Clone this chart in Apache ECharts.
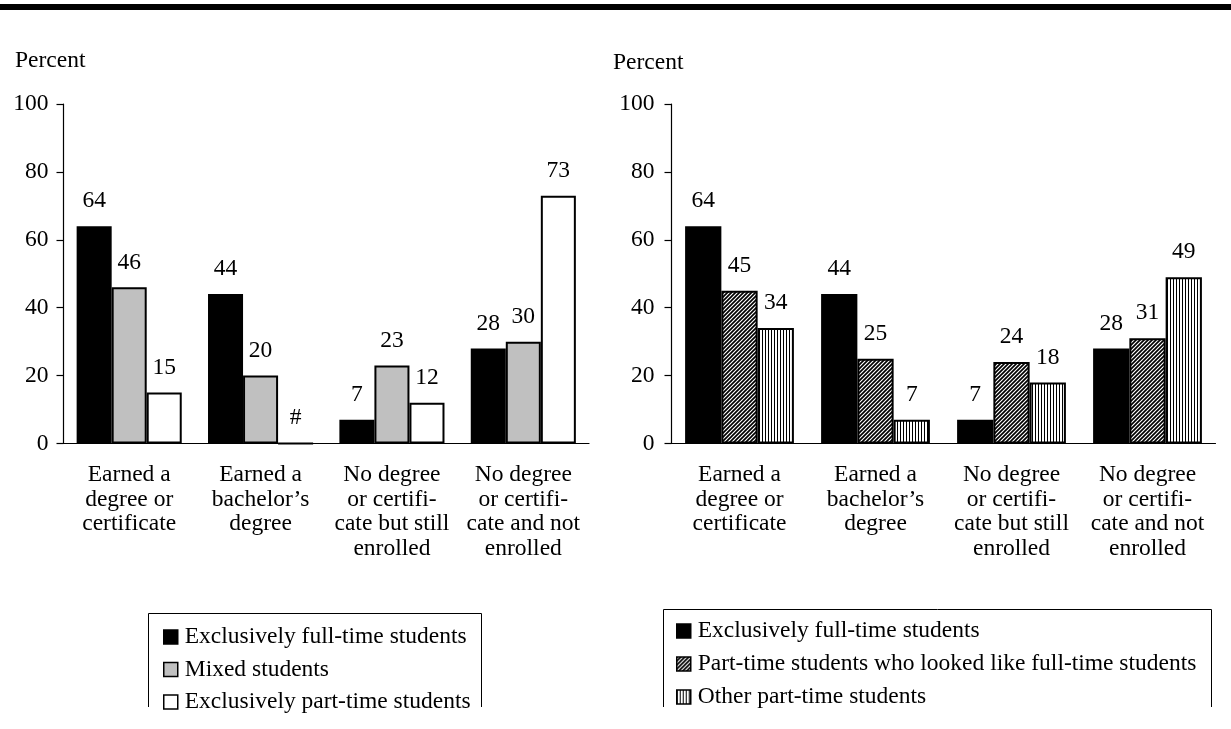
<!DOCTYPE html>
<html>
<head>
<meta charset="utf-8">
<script src="https://cdn.jsdelivr.net/npm/echarts@6/dist/echarts.min.js"></script>
<style>
html,body{margin:0;padding:0;background:#fff;}
#chart{width:1231px;height:729px;}
</style>
</head>
<body>
<div id="chart"></div>
<script>
// ---- data ----
const categories = [
  'Earned a\ndegree or\ncertificate',
  'Earned a\nbachelor\u2019s\ndegree',
  'No degree\nor certifi-\ncate but still\nenrolled',
  'No degree\nor certifi-\ncate and not\nenrolled'
];
const yTicks = [0, 20, 40, 60, 80, 100];

// left panel
const leftNames = ['Exclusively full-time students', 'Mixed students', 'Exclusively part-time students'];
const leftFullTime = [64, 44, 7, 28];
const leftMixed = [46, 20, 23, 30];
const leftPartTime = [15, 0, 12, 73];
const leftPartTimeLabels = ['15', '#', '12', '73'];

// right panel
const rightNames = ['Exclusively full-time students', 'Part-time students who looked like full-time students', 'Other part-time students'];
const rightFullTime = [64, 44, 7, 28];
const rightLookLike = [45, 25, 24, 31];
const rightOther = [34, 7, 18, 49];

// ---- patterns ----
function hatchPattern() {
  const c = document.createElement('canvas');
  c.width = 4; c.height = 4;
  const g = c.getContext('2d');
  g.fillStyle = '#fff'; g.fillRect(0, 0, 4, 4);
  g.strokeStyle = '#000'; g.lineWidth = 1.7;
  g.beginPath();
  g.moveTo(-1, 5); g.lineTo(5, -1);
  g.moveTo(-1, 1); g.lineTo(1, -1);
  g.moveTo(3, 5); g.lineTo(5, 3);
  g.stroke();
  return { image: c, repeat: 'repeat' };
}
function vStripePattern() {
  const c = document.createElement('canvas');
  c.width = 3; c.height = 3;
  const g = c.getContext('2d');
  g.fillStyle = '#fff'; g.fillRect(0, 0, 3, 3);
  g.fillStyle = '#000'; g.fillRect(0, 0, 1, 3);
  return { image: c, repeat: 'repeat' };
}

const FONT = 'Liberation Serif';
const FS = 23.5;

function xAxisCfg(gi) {
  return {
    type: 'category', gridIndex: gi, data: categories,
    axisLine: { lineStyle: { color: '#000', width: 1.2 } },
    axisTick: { show: false },
    axisLabel: { interval: 0, color: '#000', fontFamily: FONT, fontSize: FS, lineHeight: 24.7, margin: 19, align: 'center' }
  };
}
function yAxisCfg(gi, margin) {
  return {
    type: 'value', gridIndex: gi, min: yTicks[0], max: yTicks[yTicks.length - 1], interval: 20,
    axisLine: { show: true, lineStyle: { color: '#000', width: 1.2 } },
    axisTick: { show: true, inside: false, length: 7, lineStyle: { color: '#000', width: 1.2 } },
    splitLine: { show: false },
    axisLabel: { color: '#000', fontFamily: FONT, fontSize: FS, margin: margin }
  };
}
function barSeries(name, data, color, gi, labels) {
  return {
    type: 'bar', name: name, xAxisIndex: gi, yAxisIndex: gi,
    data: data.map((v, i) => labels ? { value: v, label: { formatter: labels[i] } } : v),
    barGap: '0%', barCategoryGap: '20%',
    itemStyle: { color: color, borderColor: '#000', borderWidth: 2 },
    label: { show: true, position: 'top', distance: 13, color: '#000', fontFamily: FONT, fontSize: FS },
    emphasis: { disabled: true },
    animation: false
  };
}

const legendText = { color: '#000', fontFamily: FONT, fontSize: FS, lineHeight: 22, padding: [0, 0, 0, 2] };

const option = {
  backgroundColor: '#fff',
  animation: false,
  grid: [
    { left: 63.5, top: 104, width: 525.5, height: 339.5 },
    { left: 671.5, top: 104, width: 544, height: 339.5 }
  ],
  xAxis: [xAxisCfg(0), xAxisCfg(1)],
  yAxis: [yAxisCfg(0, 15), yAxisCfg(1, 17)],
  legend: [
    {
      data: leftNames, orient: 'vertical', left: 163, top: 625, padding: 0, itemWidth: 14, itemHeight: 14,
      itemGap: 8.5, icon: 'rect', selectedMode: false, textStyle: legendText,
      itemStyle: { borderColor: '#000', borderWidth: 1.5 }
    },
    {
      data: rightNames.map(n => n === rightNames[0] ? { name: n + ' ' } : n),
      orient: 'vertical', left: 676, top: 619, padding: 0, itemWidth: 14, itemHeight: 14,
      itemGap: 9, icon: 'rect', selectedMode: false, textStyle: legendText,
      itemStyle: { borderColor: '#000', borderWidth: 1.5 }
    }
  ],
  series: [
    barSeries(leftNames[0], leftFullTime, '#000', 0),
    barSeries(leftNames[1], leftMixed, '#c0c0c0', 0),
    barSeries(leftNames[2], leftPartTime, '#fff', 0, leftPartTimeLabels),
    barSeries(rightNames[0] + ' ', rightFullTime, '#000', 1),
    barSeries(rightNames[1], rightLookLike, hatchPattern(), 1),
    barSeries(rightNames[2], rightOther, vStripePattern(), 1)
  ],
  graphic: [
    { type: 'rect', left: 0, top: 4, shape: { width: 1231, height: 6 }, style: { fill: '#000' }, silent: true },
    { type: 'text', left: 15, top: 49, style: { text: 'Percent', fill: '#000', font: FS + 'px "' + FONT + '"' }, silent: true },
    { type: 'text', left: 613, top: 51, style: { text: 'Percent', fill: '#000', font: FS + 'px "' + FONT + '"' }, silent: true },
    { type: 'polyline', shape: { points: [[148.5, 707], [148.5, 613.5], [481.5, 613.5], [481.5, 707]] }, style: { stroke: '#000', lineWidth: 1, fill: null }, silent: true },
    { type: 'polyline', shape: { points: [[663.5, 707], [663.5, 609.5], [1211.5, 609.5], [1211.5, 707]] }, style: { stroke: '#000', lineWidth: 1, fill: null }, silent: true }
  ]
};

const chart = echarts.init(document.getElementById('chart'), null, { renderer: 'canvas' });
chart.setOption(option);
</script>
</body>
</html>
